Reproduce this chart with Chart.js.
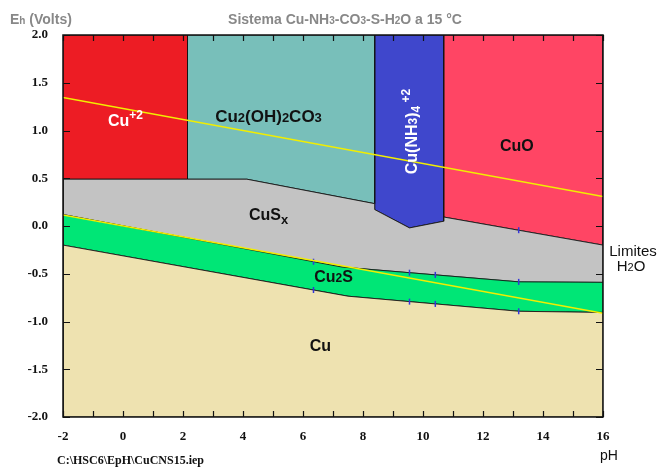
<!DOCTYPE html>
<html>
<head>
<meta charset="utf-8">
<script src="https://cdn.jsdelivr.net/npm/chart.js@4/dist/chart.umd.min.js"></script>
<style>
  html, body { margin: 0; padding: 0; background: #fff; }
  #wrap { width: 659px; height: 468px; }
</style>
</head>
<body>
<div id="wrap"><canvas id="c" width="659" height="468"></canvas></div>
<script>
// Eh-pH diagram, Cu-NH3-CO3-S-H2O system at 15 °C. Points are [pH, Eh (V)].
const phRange = [-2, 16];
const ehRange = [-2, 2];

// Stability-field boundaries
const cuTop      = [[-2, -0.20], [7.5, -0.735], [13.2, -0.893], [16, -0.905]];   // Cu / Cu2S
const cu2sTop    = [[-2, 0.12], [7.3, -0.43], [13.2, -0.585], [16, -0.59]];      // Cu2S / CuSx
const cusxTopL   = [[-2, 0.49], [2.15, 0.49], [4.13, 0.49], [8.39, 0.234]];      // CuSx / Cu+2, Cu2(OH)2CO3
const amineFloor = [[8.39, 0.172], [9.55, -0.02], [10.69, 0.05]];                // CuSx / Cu(NH3)4+2
const cuoFloor   = [[10.69, 0.094], [16, -0.20]];                                // CuSx / CuO
const xCu2       = 2.15;   // Cu+2 | Cu2(OH)2CO3
const xMalach    = 8.39;   // Cu2(OH)2CO3 | Cu(NH3)4+2
const xAmine     = 10.69;  // Cu(NH3)4+2 | CuO

// Computed points marked along the boundaries
const calcMarks = [
  [6.35, -0.374], [6.35, -0.67],
  [9.55, -0.489], [9.55, -0.792],
  [10.41, -0.512], [10.41, -0.816],
  [13.19, -0.585], [13.19, -0.893], [13.19, -0.044]
];

// Water stability limits
const h2oUpper = [[-2, 1.345], [16, 0.31]];
const h2oLower = [[-2, 0.115], [16, -0.915]];

const regionNames  = ['Cu', 'Cu2S', 'CuSx', 'Cu+2', 'Cu2(OH)2CO3', 'Cu(NH3)4+2', 'CuO'];
const regionColors = ['#EEE2B0', '#00E676', '#C3C3C3', '#ED1C24', '#78BFBA', '#3F47CC', '#FF4564'];

const rev = a => a.slice().reverse();
const polygons = [
  [[-2, -2], [16, -2], ...rev(cuTop)],
  [...cuTop, ...rev(cu2sTop)],
  [...cu2sTop, ...rev(cuoFloor), ...rev(amineFloor), ...rev(cusxTopL)],
  [[-2, 2], [xCu2, 2], [xCu2, 0.49], [-2, 0.49]],
  [[xCu2, 2], [xMalach, 2], ...rev(cusxTopL.slice(1))],
  [[xMalach, 2], [xAmine, 2], ...rev(amineFloor)],
  [[xAmine, 2], [16, 2], ...rev(cuoFloor)]
];

const toXY = pts => pts.map(([x, y]) => ({ x, y }));

const datasets = polygons.map((poly, i) => ({
  label: regionNames[i],
  data: toXY([...poly, poly[0]]),
  backgroundColor: regionColors[i],
  borderColor: 'rgba(20,20,20,0.85)',
  borderWidth: 1,
  fill: 'shape',
  pointRadius: 0,
  tension: 0,
  order: 5
}));
datasets.push({
  label: 'marks',
  data: toXY(calcMarks),
  showLine: false,
  pointStyle: 'line',
  rotation: 90,
  pointRadius: 3,
  borderColor: '#3535D8',
  pointBorderWidth: 1.5,
  order: 1
});
[h2oUpper, h2oLower].forEach((ln, i) => datasets.push({
  label: i ? 'H2O low' : 'H2O high',
  data: toXY(ln),
  borderColor: '#F2EE00',
  borderWidth: 1.5,
  fill: false,
  pointRadius: 0,
  order: 0
}));

const sans = '"Liberation Sans", Arial, sans-serif';

// Text runs made of pieces [text, size, dy]
function runWidth(ctx, parts, weight) {
  let w = 0;
  for (const [t, s] of parts) { ctx.font = `${weight} ${s}px ${sans}`; w += ctx.measureText(t).width; }
  return w;
}
function drawRun(ctx, x, y, parts, weight, color, align) {
  ctx.fillStyle = color;
  ctx.textBaseline = 'alphabetic';
  ctx.textAlign = 'left';
  const w = runWidth(ctx, parts, weight);
  let cx = align === 'center' ? x - w / 2 : x;
  for (const [t, s, dy] of parts) {
    ctx.font = `${weight} ${s}px ${sans}`;
    ctx.fillText(t, cx, y + (dy || 0));
    cx += ctx.measureText(t).width;
  }
}

const decorations = {
  id: 'decorations',
  afterDatasetsDraw(chart) {
    const { ctx, chartArea: a, scales: { x, y } } = chart;
    ctx.save();
    // inside tick marks on all four sides
    ctx.strokeStyle = '#111';
    ctx.lineWidth = 1.2;
    ctx.beginPath();
    for (const t of x.ticks) {
      const px = Math.round(x.getPixelForValue(t.value)) + 0.5;
      ctx.moveTo(px, a.bottom); ctx.lineTo(px, a.bottom - 6);
      ctx.moveTo(px, a.top); ctx.lineTo(px, a.top + 6);
    }
    for (const t of y.ticks) {
      const py = Math.round(y.getPixelForValue(t.value)) + 0.5;
      ctx.moveTo(a.left, py); ctx.lineTo(a.left + 7, py);
      ctx.moveTo(a.right, py); ctx.lineTo(a.right - 7, py);
    }
    ctx.stroke();
    ctx.lineWidth = 1.5;
    ctx.strokeRect(a.left, a.top, a.right - a.left, a.bottom - a.top);

    // field labels
    const P = (px, ey) => [x.getPixelForValue(px), y.getPixelForValue(ey)];
    let [lx, ly] = P(0.05, 1.05);
    drawRun(ctx, lx + 1, ly, [['Cu', 16], ['+2', 12, -7]], 'bold', '#fff', 'center');
    [lx, ly] = P(4.85, 1.09);
    drawRun(ctx, lx, ly, [['Cu', 17], ['2', 13], ['(OH)', 17], ['2', 13], ['CO', 17], ['3', 13]], 'bold', '#111', 'center');
    [lx, ly] = P(13.13, 0.79);
    drawRun(ctx, lx, ly, [['CuO', 16]], 'bold', '#111', 'center');
    [lx, ly] = P(4.85, 0.065);
    drawRun(ctx, lx, ly, [['CuS', 16], ['x', 13, 4]], 'bold', '#111', 'center');
    [lx, ly] = P(7.02, -0.59);
    drawRun(ctx, lx, ly, [['Cu', 16], ['2', 12], ['S', 16]], 'bold', '#111', 'center');
    [lx, ly] = P(6.58, -1.31);
    drawRun(ctx, lx, ly, [['Cu', 16]], 'bold', '#111', 'center');

    // rotated label for the ammine complex
    [lx, ly] = P(9.55, 1.0);
    ctx.save();
    ctx.translate(lx + 7, ly + 1);
    ctx.rotate(-Math.PI / 2);
    drawRun(ctx, 0, 0, [['Cu(NH', 16], ['3', 12], [')', 16], ['4', 12, 3], [' +2', 12, -7]], 'bold', '#fff', 'center');
    ctx.restore();
    ctx.restore();
  },
  afterDraw(chart) {
    const { ctx } = chart;
    ctx.save();
    // title
    drawRun(ctx, 345, 24, [['Sistema Cu-NH', 14], ['3', 10], ['-CO', 14], ['3', 10], ['-S-H', 14], ['2', 10], ['O a 15 °C', 14]],
            'bold', '#888', 'center');
    // y-axis caption
    drawRun(ctx, 10, 24, [['E', 14], ['h', 10], [' (Volts)', 14]], 'bold', '#888', 'left');
    // x-axis caption
    drawRun(ctx, 600, 460, [['pH', 14]], 'normal', '#111', 'left');
    // water limits caption
    drawRun(ctx, 633, 256, [['Limites', 15]], 'normal', '#111', 'center');
    drawRun(ctx, 631, 271, [['H', 15], ['2', 11], ['O', 15]], 'normal', '#111', 'center');
    // source file
    ctx.font = 'bold 12px "Liberation Serif", "Times New Roman", serif';
    ctx.fillStyle = '#111';
    ctx.textAlign = 'left';
    ctx.fillText('C:\\HSC6\\EpH\\CuCNS15.iep', 57, 464);
    ctx.restore();
  }
};

new Chart(document.getElementById('c'), {
  type: 'line',
  data: { datasets },
  options: {
    responsive: false,
    animation: false,
    layout: { padding: { left: 0, right: 56, top: 35, bottom: 0 } },
    plugins: { legend: { display: false }, tooltip: { enabled: false }, title: { display: false } },
    scales: {
      x: {
        type: 'linear', min: phRange[0], max: phRange[1],
        grid: { display: false, drawTicks: false },
        border: { display: false },
        ticks: {
          stepSize: 1, padding: 12, color: '#111', font: { family: '"Liberation Serif"', size: 13, weight: 'bold' },
          autoSkip: false, maxRotation: 0,
          callback: v => (v % 2 === 0 ? String(v) : '')
        },
        afterFit: s => { s.height = 51; }
      },
      y: {
        type: 'linear', min: ehRange[0], max: ehRange[1],
        grid: { display: false, drawTicks: false },
        border: { display: false },
        ticks: {
          stepSize: 0.5, padding: 15, color: '#111', font: { family: '"Liberation Serif"', size: 13, weight: 'bold' },
          callback: v => v.toFixed(1)
        },
        afterFit: s => { s.width = 63; }
      }
    }
  },
  plugins: [decorations]
});
</script>
</body>
</html>
